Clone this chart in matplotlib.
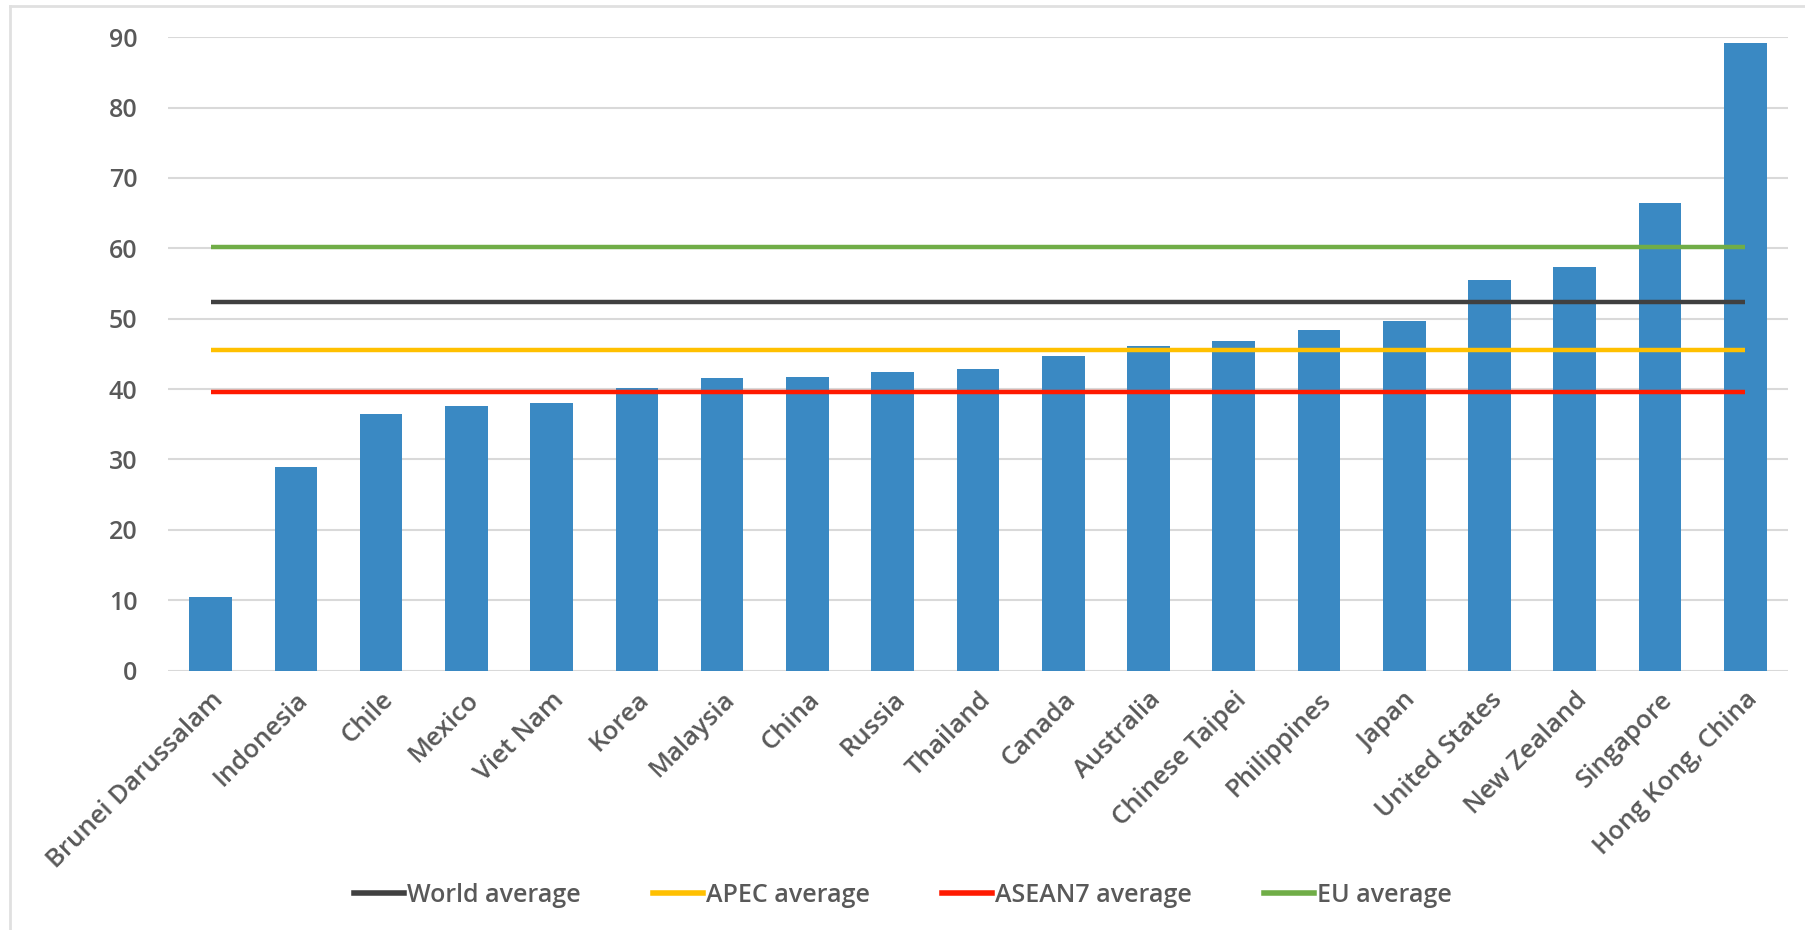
import matplotlib.pyplot as plt
import numpy as np
from matplotlib.lines import Line2D

# data
economies = ["Brunei Darussalam", "Indonesia", "Chile", "Mexico", "Viet Nam", "Korea",
             "Malaysia", "China", "Russia", "Thailand", "Canada", "Australia",
             "Chinese Taipei", "Philippines", "Japan", "United States", "New Zealand",
             "Singapore", "Hong Kong, China"]
values = [10.4, 28.9, 36.4, 37.6, 38.0, 40.1, 41.6, 41.7, 42.4, 42.9, 44.7, 46.1,
          46.8, 48.4, 49.7, 55.5, 57.3, 66.4, 89.2]

avg_names = ["World average", "APEC average", "ASEAN7 average", "EU average"]
avg_values = [52.4, 45.5, 39.6, 60.2]
avg_colors = ["#404040", "#FFC000", "#FF1A00", "#70AD47"]

plt.rcParams['font.family'] = ['Open Sans', 'DejaVu Sans']
plt.rcParams['font.weight'] = 600
txt = "#595959"

fig = plt.figure(figsize=(18.06, 9.3), dpi=100)
ax = fig.add_axes([0.093, 0.279, 0.897, 0.681])

x = np.arange(len(economies))
ax.bar(x, values, width=0.5, color="#3A89C3", zorder=2)

# average lines go from first to last category centre
for name, v, c in zip(avg_names, avg_values, avg_colors):
    ax.plot([x[0], x[-1]], [v, v], color=c, lw=3.2, zorder=3, solid_capstyle="butt")

ax.set_xlim(-0.5, len(economies) - 0.5)
ax.set_ylim(0, 90)
ax.set_yticks(range(0, 91, 10))
ax.yaxis.grid(True, color="#D9D9D9", lw=1.5, zorder=0)
ax.set_axisbelow(True)
for s in ax.spines.values():
    s.set_visible(False)
ax.tick_params(axis="both", length=0, colors=txt, labelsize=18)
ax.tick_params(axis="y", pad=22)
ax.set_xticks(x)
ax.set_xticklabels(economies, rotation=45, ha="right", rotation_mode="anchor")
ax.tick_params(axis="x", labelsize=18.5, pad=12)

handles = [Line2D([], [], color=c, lw=4) for c in avg_colors]
fig.legend(handles, avg_names, loc="center", bbox_to_anchor=(0.5, 0.037), ncol=4,
           frameon=False, fontsize=18, labelcolor=txt, handlelength=2.0,
           handletextpad=0.1, columnspacing=2.9)

# light frame at left and top edge
fig.add_artist(Line2D([10 / 1806, 10 / 1806], [0, 1 - 6 / 930], transform=fig.transFigure,
                      color="#E0E0E0", lw=2))
fig.add_artist(Line2D([10 / 1806, 1], [1 - 6 / 930, 1 - 6 / 930], transform=fig.transFigure,
                      color="#E0E0E0", lw=2))

fig.savefig("out.png", dpi=100)
